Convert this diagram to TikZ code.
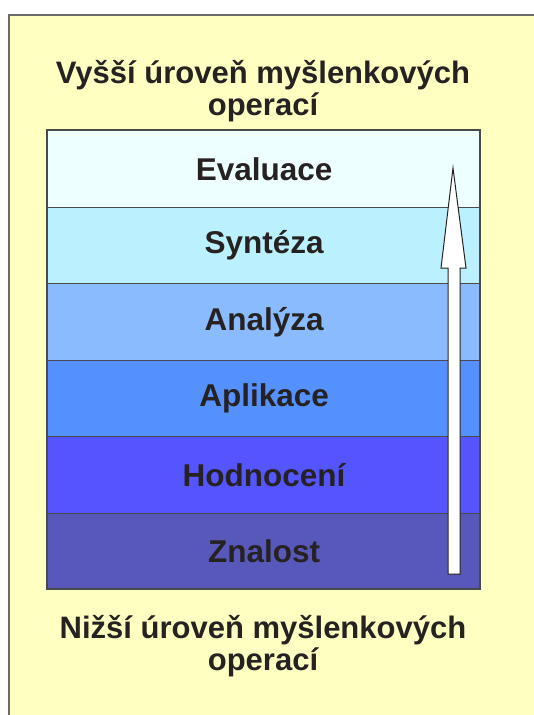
\documentclass[tikz,border=0pt]{standalone}
\usepackage{fontspec}
\setmainfont{Liberation Sans}
\definecolor{bgyellow}{HTML}{FFFFC2}
\definecolor{framegray}{HTML}{6A6A6A}
\definecolor{boxline}{HTML}{4A4A4A}
\definecolor{txt}{HTML}{262222}
\definecolor{cA}{HTML}{EEFFFF}
\definecolor{cB}{HTML}{BBF0FF}
\definecolor{cC}{HTML}{8BBBFF}
\definecolor{cD}{HTML}{5590FF}
\definecolor{cE}{HTML}{5555FF}
\definecolor{cF}{HTML}{5858BB}
\begin{document}
\begin{tikzpicture}[x=1pt,y=-1pt,
  stripe/.style={draw=boxline,line width=1.2pt,minimum width=433pt,minimum height=76.5pt,inner sep=0pt,anchor=north west,
     text=txt,font=\fontsize{31.5}{33}\selectfont\bfseries},
  title/.style={text=txt,font=\fontsize{31}{32}\selectfont\bfseries,align=center,inner sep=0pt}]
\useasboundingbox (0,0) rectangle (534,715);
\fill[white] (0,0) rectangle (534,715);
\fill[bgyellow] (9,15) rectangle (534,715);
\draw[framegray,line width=2pt] (9,716) -- (9,15) -- (535,15);
\node[stripe,fill=cA] (s1) at (47,130) {Evaluace};
\node[stripe,fill=cB] (s2) at (47,206.5) {Syntéza};
\node[stripe,fill=cC] (s3) at (47,283) {Analýza};
\node[stripe,fill=cD] (s4) at (47,359.5) {Aplikace};
\node[stripe,fill=cE] (s5) at (47,436) {Hodnocení};
\node[stripe,fill=cF] (s6) at (47,512.5) {Znalost};
\draw[boxline,line width=1.4pt] (47,130) rectangle (480,589);
\node[title] (top) at (263,91) {Vyšší úroveň myšlenkových\\operací};
\node[title] (bot) at (263,646) {Nižší úroveň myšlenkových\\operací};
\draw[fill=white,draw=txt,line width=1pt,line join=miter]
  (448,574) -- (448,268) -- (441,268) -- (453,168) -- (466,268) -- (460,268) -- (460,574) -- cycle;
\end{tikzpicture}
\end{document}
